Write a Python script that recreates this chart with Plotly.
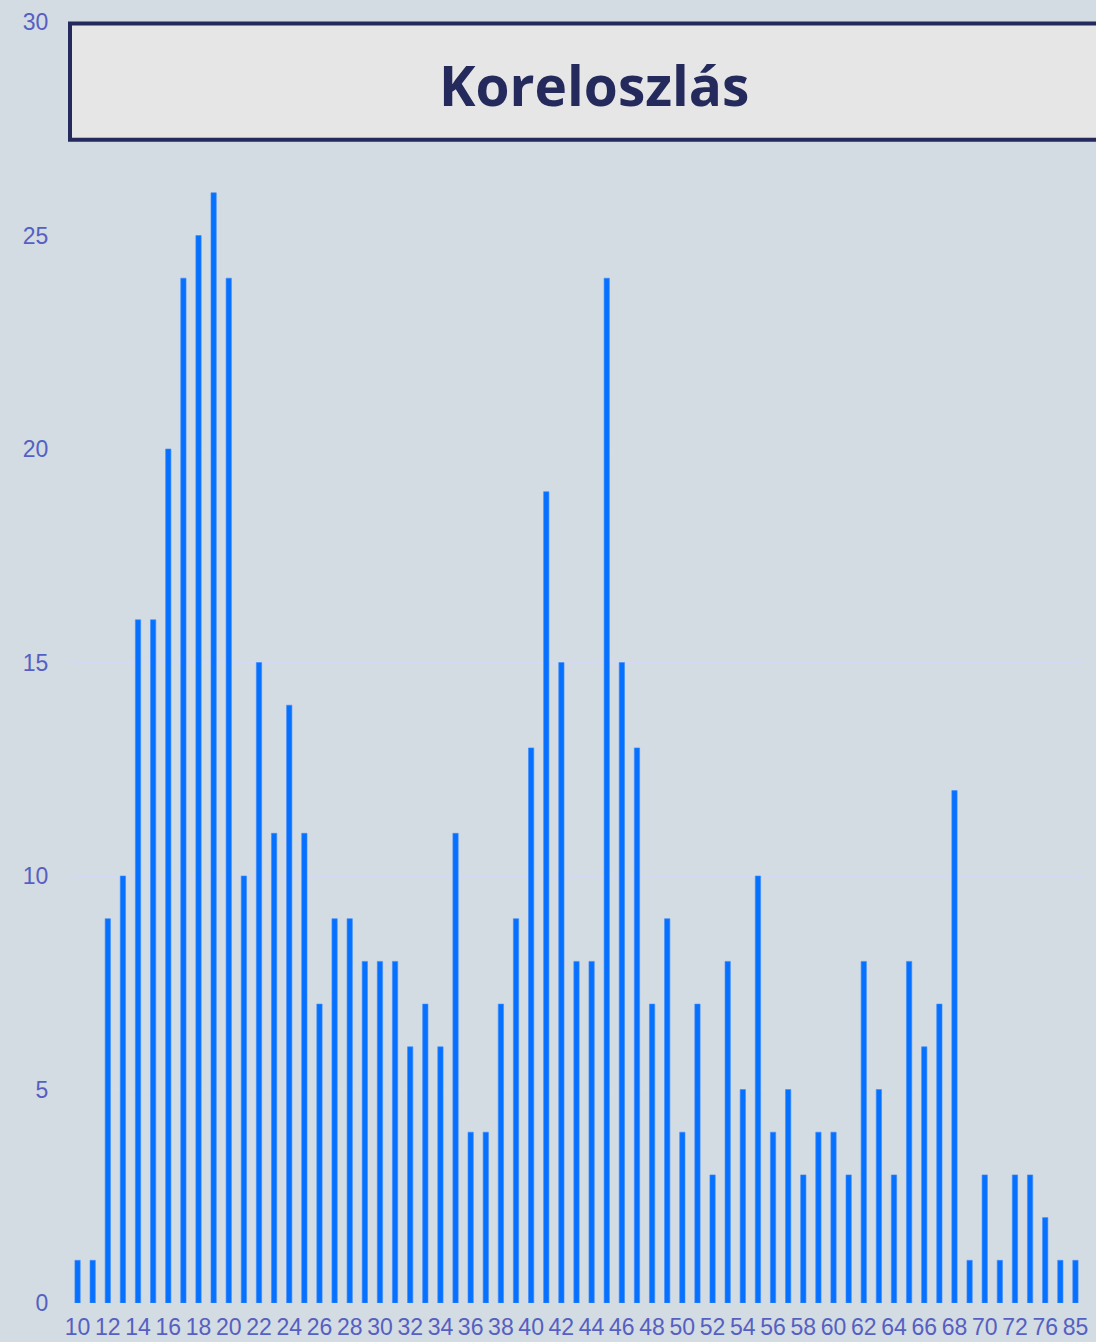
import plotly.graph_objects as go

ages = [str(a) for a in range(10, 73)] + ["74", "76", "80", "85"]
counts = [1, 1, 9, 10, 16, 16, 20, 24, 25, 26,
          24, 10, 15, 11, 14, 11, 7, 9, 9, 8,
          8, 8, 6, 7, 6, 11, 4, 4, 7, 9,
          13, 19, 15, 8, 8, 24, 15, 13, 7, 9,
          4, 7, 3, 8, 5, 10, 4, 5, 3, 4,
          4, 3, 8, 5, 3, 8, 6, 7, 12, 1,
          3, 1, 3, 3, 2, 1, 1]
xtick_labels = ages[::2]
ytick_vals = [0, 5, 10, 15, 20, 25, 30]
title_text = "Koreloszlás"

bg = "rgb(211,219,227)"
tick_color = "#5560c2"

fig = go.Figure(go.Bar(x=ages, y=counts,
                       marker=dict(color="#0671ff", line=dict(width=0.6, color="#3b8cff"))))

fig.update_layout(
    width=1096, height=1342,
    margin=dict(l=70, r=13, t=22, b=39, autoexpand=False),
    paper_bgcolor=bg, plot_bgcolor=bg,
    bargap=0.65,
    showlegend=False,
    font=dict(family="Liberation Sans, Arial", size=23, color=tick_color),
)
fig.update_xaxes(type="category", categoryorder="array", categoryarray=ages,
                 tickmode="array", tickvals=xtick_labels, ticktext=xtick_labels,
                 tickangle=0, showgrid=False, zeroline=False, showline=False,
                 automargin=False,
                 ticks="outside", ticklen=3, tickcolor="rgba(0,0,0,0)",
                 tickfont=dict(size=23, color=tick_color))
fig.update_yaxes(range=[0, 30], tickmode="array", tickvals=ytick_vals,
                 showgrid=True, gridcolor="#d5d9f3", gridwidth=1,
                 zeroline=False, showline=False, automargin=False,
                 ticks="outside", ticklen=16, tickcolor="rgba(0,0,0,0)",
                 tickfont=dict(size=23, color=tick_color))

fig.add_shape(type="rect", xref="paper", yref="paper",
              x0=0.0, x1=1.03, y0=0.908, y1=0.9988,
              fillcolor="#e6e6e6", line=dict(color="#252a5c", width=4), layer="above")
fig.add_annotation(xref="paper", yref="paper", x=0.517, y=0.9516,
                   text="<b>" + title_text + "</b>", showarrow=False,
                   font=dict(family="Open Sans", size=55, color="#252a5c"),
                   xanchor="center", yanchor="middle")

fig.write_html("out.html", config={"displayModeBar": False},
               post_script="document.body.style.margin='0';document.body.style.overflow='hidden';")
